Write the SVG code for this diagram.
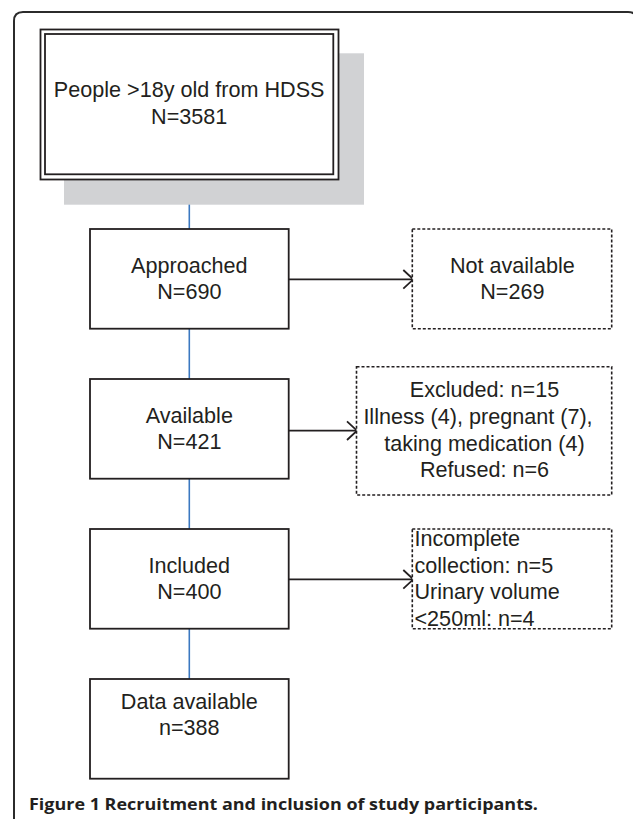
<svg xmlns="http://www.w3.org/2000/svg" width="633" height="819" viewBox="0 0 633 819">
<style>
  .box { fill: #ffffff; stroke: #231f20; stroke-width: 1.8; }
  .dash { fill: #ffffff; stroke: #231f20; stroke-width: 1.6; stroke-dasharray: 3 2; }
  .t { font-family: "Liberation Sans", Arial, sans-serif; font-size: 21.6px; fill: #231f20; }
  .c { text-anchor: middle; }
  .blue { stroke: #3b78c0; stroke-width: 1.6; fill: none; }
  .arr { stroke: #231f20; stroke-width: 1.8; fill: none; marker-end: url(#open); }
  .cap { font-family: "Open Sans", "Liberation Sans", sans-serif; font-weight: 700; font-size: 16px; fill: #231f20; }
</style>
<defs>
  <marker id="open" markerUnits="userSpaceOnUse" markerWidth="14" markerHeight="22" refX="11" refY="10" orient="auto" overflow="visible">
    <path d="M1,0.7 L11,10 L1,19.3" fill="none" stroke="#231f20" stroke-width="1.8"/>
  </marker>
</defs>
<rect width="633" height="819" fill="#ffffff"/>
<path id="frame" d="M14,830 V21 Q14,12 23,12 H628 Q637,12 637,21 V830" fill="none" stroke="#2b2b2b" stroke-width="2"/>

<g id="connectors">
  <line class="blue" x1="189.3" y1="179.5" x2="189.3" y2="229"/>
  <line class="blue" x1="189.3" y1="328.7" x2="189.3" y2="379"/>
  <line class="blue" x1="189.3" y1="478.7" x2="189.3" y2="529"/>
  <line class="blue" x1="189.3" y1="628.7" x2="189.3" y2="679"/>
  <line class="arr" x1="288.7" y1="279.3" x2="413.3" y2="279.3"/>
  <line class="arr" x1="288.7" y1="430.7" x2="357" y2="430.7"/>
  <line class="arr" x1="288.7" y1="579.3" x2="413.3" y2="579.3"/>
</g>

<g id="people">
  <rect x="64" y="53.3" width="300" height="151.4" fill="#d1d2d4"/>
  <rect class="box" x="40.5" y="29.5" width="298" height="150"/>
  <rect x="45" y="34" width="288.3" height="140.3" fill="none" stroke="#231f20" stroke-width="1.8"/>
  <text class="t c" x="189.2" y="97.3">People &gt;18y old from HDSS</text>
  <text class="t c" x="189.2" y="124">N=3581</text>
</g>

<g id="approached">
  <rect class="box" x="90" y="229" width="198.7" height="99.7"/>
  <text class="t c" x="189.3" y="272.7">Approached</text>
  <text class="t c" x="189.3" y="299.3">N=690</text>
</g>

<g id="not-available">
  <rect class="dash" x="412.3" y="229" width="199.4" height="99.7"/>
  <text class="t c" x="512.3" y="272.7">Not available</text>
  <text class="t c" x="512.3" y="299.3">N=269</text>
</g>

<g id="available">
  <rect class="box" x="90" y="379" width="198.7" height="99.7"/>
  <text class="t c" x="189.3" y="422.7">Available</text>
  <text class="t c" x="189.3" y="449.3">N=421</text>
</g>

<g id="excluded">
  <rect class="dash" x="356.5" y="366.7" width="255.2" height="128.3"/>
  <text class="t c" x="484.5" y="397.3">Excluded: n=15</text>
  <text class="t c" x="478" y="424">Illness (4), pregnant (7),</text>
  <text class="t c" x="484.5" y="450.7">taking medication (4)</text>
  <text class="t c" x="484.5" y="476.7">Refused: n=6</text>
</g>

<g id="included">
  <rect class="box" x="90" y="529" width="198.7" height="99.7"/>
  <text class="t c" x="189.3" y="572.7">Included</text>
  <text class="t c" x="189.3" y="599">N=400</text>
</g>

<g id="incomplete">
  <rect class="dash" x="412.3" y="529" width="199.4" height="99.7"/>
  <text class="t" x="414.5" y="546">Incomplete</text>
  <text class="t" x="414.5" y="572.7">collection: n=5</text>
  <text class="t" x="414.5" y="599.3">Urinary volume</text>
  <text class="t" x="414.5" y="626">&lt;250ml: n=4</text>
</g>

<g id="data-available">
  <rect class="box" x="90" y="679" width="198.7" height="99.7"/>
  <text class="t c" x="189.3" y="709">Data available</text>
  <text class="t c" x="189.3" y="735.3">n=388</text>
</g>

<text id="caption" class="cap" x="29" y="810" textLength="509" lengthAdjust="spacingAndGlyphs">Figure 1 Recruitment and inclusion of study participants.</text>
</svg>
